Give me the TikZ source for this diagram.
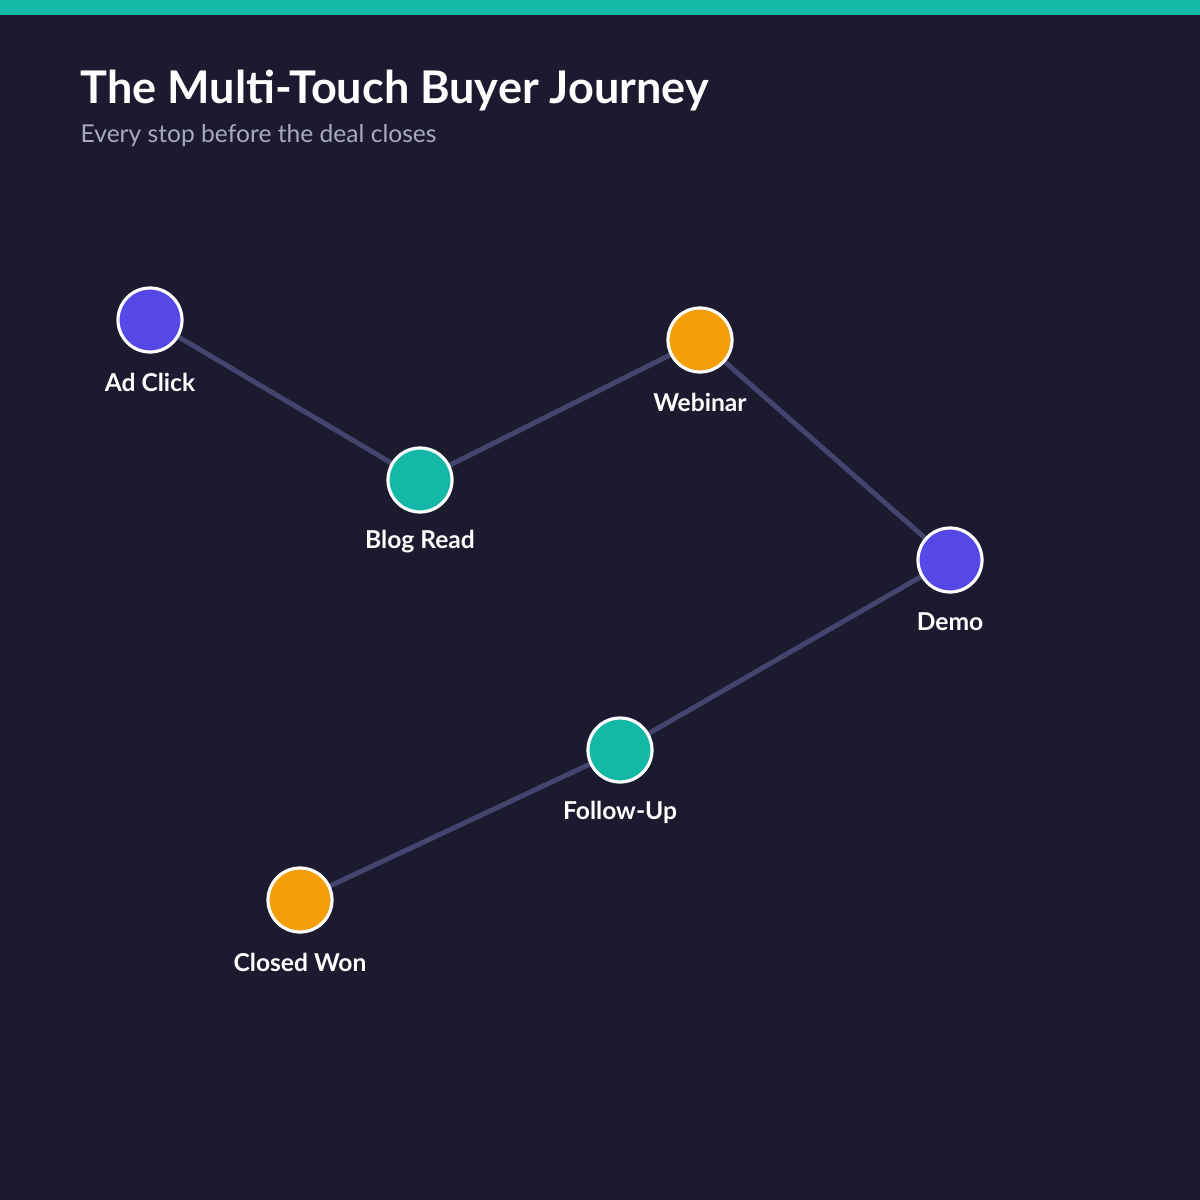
\documentclass[tikz,border=0pt]{standalone}
\usepackage{fontspec}
\setmainfont{Lato}
\definecolor{bg}{HTML}{1B1A2E}
\definecolor{teal}{HTML}{14B8A6}
\definecolor{indi}{HTML}{5548E6}
\definecolor{amber}{HTML}{F59E0B}
\definecolor{edge}{HTML}{44446E}
\definecolor{sub}{HTML}{A9A9BF}
\begin{document}
\begin{tikzpicture}[x=0.01cm,y=-0.01cm,
  stop/.style={circle,draw=white,line width=0.9pt,minimum size=0.64cm,inner sep=0pt},
  lbl/.style={text=white,font=\bfseries\fontsize{7}{8}\selectfont},
  link/.style={draw=edge,line width=1.4pt}]
\fill[bg] (0,0) rectangle (1200,1200);
\fill[teal] (0,0) rectangle (1200,15);
\node[anchor=base west,text=white,inner sep=0pt,font=\bfseries\fontsize{12.8}{14}\selectfont] (title) at (80,103) {The Multi-Touch Buyer Journey};
\node[anchor=base west,text=sub,inner sep=0pt,font=\fontsize{7}{8}\selectfont] (subtitle) at (80,142) {Every stop before the deal closes};
\coordinate (pa) at (150,320);
\coordinate (pb) at (420,480);
\coordinate (pw) at (700,340);
\coordinate (pd) at (950,560);
\coordinate (pf) at (620,750);
\coordinate (pc) at (300,900);
\draw[link] (pa)--(pb)--(pw)--(pd)--(pf)--(pc);
\node[stop,fill=indi] (a) at (pa) {};
\node[stop,fill=teal] (b) at (pb) {};
\node[stop,fill=amber] (w) at (pw) {};
\node[stop,fill=indi] (d) at (pd) {};
\node[stop,fill=teal] (f) at (pf) {};
\node[stop,fill=amber] (c) at (pc) {};
\node[lbl] (la) at (150,382) {Ad Click};
\node[lbl] (lb) at (420,542) {Blog Read};
\node[lbl] (lw) at (700,402) {Webinar};
\node[lbl] (ld) at (950,622) {Demo};
\node[lbl] (lf) at (620,812) {Follow-Up};
\node[lbl] (lc) at (300,962) {Closed Won};
\end{tikzpicture}
\end{document}
